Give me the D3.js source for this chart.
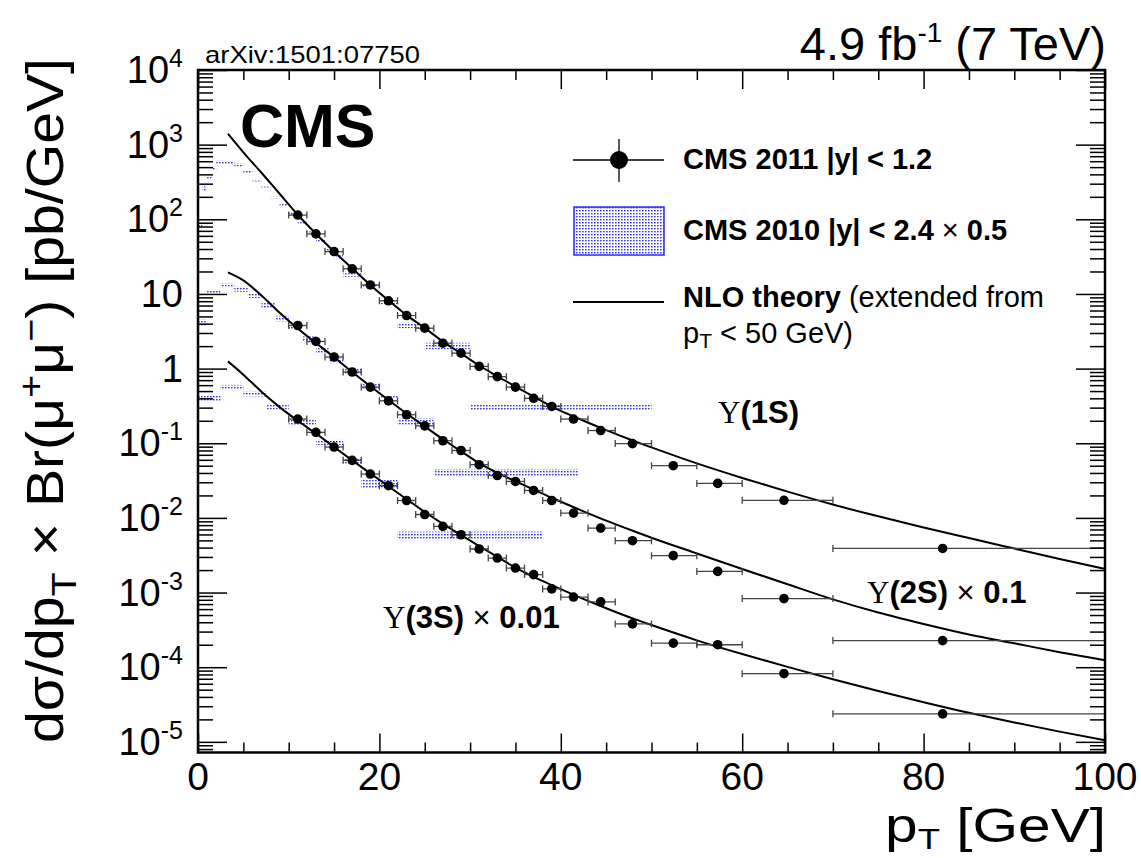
<!DOCTYPE html>
<html><head><meta charset="utf-8">
<script src="https://cdn.jsdelivr.net/npm/d3@7"></script>
<style>
body{margin:0;background:#fff}
svg{display:block}
text{font-family:"Liberation Sans",Arial,Helvetica,sans-serif;fill:#000}
</style>
</head><body>
<svg id="c" width="1141" height="858"></svg>
<script>
// ---------------- DATA ----------------
// CMS 2011 |y|<1.2 bins
const binLo  = [10,12,14,16,18,20,22,24,26,28,30,32,34,36,38,40,43,46,50,55,60,70];
const binHi  = [12,14,16,18,20,22,24,26,28,30,32,34,36,38,40,43,46,50,55,60,70,100];
const ptMean = [11,13,15,17,19,21,23,25,27,29,31,33,35,37,39,41.4,44.4,47.9,52.4,57.3,64.6,82.1];
const y1S = [114,63.8,37,21.7,13.2,8.1,5.14,3.48,2.19,1.61,1.07,0.78,0.565,0.40,0.311,0.211,0.148,0.099,0.050,0.029,0.0172,0.0039];
const y2S = [3.78,2.31,1.43,0.90,0.565,0.37,0.241,0.171,0.108,0.080,0.0516,0.037,0.0308,0.0233,0.0171,0.0116,0.0073,0.00495,0.00312,0.00192,0.00083,0.000227];
const y3S = [0.211,0.14,0.089,0.059,0.0387,0.027,0.0171,0.0111,0.0077,0.00595,0.00383,0.0029,0.00213,0.00174,0.00112,0.00087,0.00075,0.00038,0.00021,0.00020,0.000082,0.0000237];
const relErr = [0.03,0.03,0.03,0.03,0.03,0.03,0.03,0.03,0.03,0.03,0.03,0.03,0.03,0.03,0.03,0.04,0.04,0.05,0.05,0.06,0.07,0.12];

// CMS 2010 |y|<2.4 x 0.5 (boxes)
const lo1S10  = [0,0.5,1,1.5,2,3,4,5,6,7,8,9,10,11,12,13,14,15,16,18,20,22,25,30];
const hi1S10  = [0.5,1,1.5,2,3,4,5,6,7,8,9,10,11,12,13,14,15,16,18,20,22,25,30,50];
const val1S10 = [83,255,355,483,583,570,535,431,320,267,196,157,118,89,66,52,40,31.6,18,12.6,7.6,3.8,2.02,0.305];
const err1S10 = [6.5,20,18,25,27,27,28,26,10,7,5,6,5,4.5,3,2,2,1.5,1,0.6,0.3,0.33,0.2,0.032];
const lo2S10  = [0,1,2.5,4,5.5,7,8.5,10,11.5,13,14.5,16,18,20,22,26];
const hi2S10  = [1,2.5,4,5.5,7,8.5,10,11.5,13,14.5,16,18,20,22,26,42];
const val2S10 = [4.1,10.5,13.2,11.6,9.5,7.0,4.7,3.6,2.5,1.74,1.28,0.92,0.57,0.42,0.197,0.0403];
const err2S10 = [0.47,0.8,0.7,0.9,0.7,0.55,0.4,0.25,0.2,0.14,0.1,0.09,0.05,0.022,0.02,0.005];
const lo3S10  = [0,2.5,5,7.5,10,13,16,18,22];
const hi3S10  = [2.5,5,7.5,10,13,16,18,22,38];
const val3S10 = [0.40,0.56,0.46,0.31,0.19,0.103,0.0575,0.0288,0.0058];
const err3S10 = [0.04,0.045,0.035,0.027,0.015,0.008,0.006,0.0036,0.00075];

// NLO theory curves
const thPt  = [3.3,5,7,9,11,13,15,17,19,21,23,25,27,29,31,33,35,37,39,42,45,48,50,55,60,65,70,75,80,85,90,95,100];
const th1S  = [1400,790,420,220,115,64,37,22,13.2,8.2,5.2,3.5,2.3,1.6,1.1,0.79,0.575,0.42,0.31,0.213,0.150,0.108,0.088,0.0537,0.0343,0.0225,0.0151,0.0105,0.00745,0.00537,0.00389,0.00282,0.00207];
const th2S  = [19.5,15.2,9.5,5.6,3.45,2.2,1.42,0.90,0.58,0.38,0.25,0.168,0.113,0.078,0.054,0.040,0.031,0.024,0.0186,0.013,0.0092,0.00668,0.00543,0.00334,0.00207,0.00129,0.00081,0.00054,0.00038,0.000275,0.000209,0.000159,0.000124];
const th3S  = [1.25,0.83,0.49,0.305,0.20,0.135,0.089,0.059,0.0395,0.0265,0.0178,0.012,0.0083,0.0059,0.0042,0.0030,0.00216,0.00162,0.00126,0.00087,0.000617,0.000447,0.000367,0.000229,0.00015,0.000101,0.000069,0.000048,0.000034,0.0000245,0.0000182,0.0000137,0.0000105];

const xMajor = [0,20,40,60,80,100];
const yMajor = [1e4,1e3,1e2,10,1,0.1,0.01,1e-3,1e-4,1e-5];
const yLabelBase = ["10","10","10","10","1","10","10","10","10","10"];
const yLabelExp  = ["4","3","2","","","-1","-2","-3","-4","-5"];

// ---------------- DRAW ----------------
const svg = d3.select("#c");
const L = 198, R = 1105, T = 70, B = 752.5;
const x = d3.scaleLinear().domain([0,100]).range([L,R]);
const y = d3.scaleLog().domain([7.2e-6,1e4]).range([B,T]);

const defs = svg.append("defs");
const pat = defs.append("pattern").attr("id","dots").attr("patternUnits","userSpaceOnUse")
  .attr("width",3).attr("height",3);
pat.append("rect").attr("x",0).attr("y",0).attr("width",1.6).attr("height",1.4).attr("fill","#3434e0");
defs.append("clipPath").attr("id","clip").append("rect").attr("x",L).attr("y",T).attr("width",R-L).attr("height",B-T);

const plot = svg.append("g").attr("clip-path","url(#clip)");

// 2010 boxes
function boxes(lo,hi,val,err){
  plot.append("g").selectAll("rect").data(val).join("rect")
    .attr("x",(d,i)=>x(lo[i])).attr("width",(d,i)=>x(hi[i])-x(lo[i]))
    .attr("y",(d,i)=>y(d+err[i])).attr("height",(d,i)=>y(d-err[i])-y(d+err[i]))
    .attr("fill","url(#dots)");
}
boxes(lo1S10,hi1S10,val1S10,err1S10);
boxes(lo2S10,hi2S10,val2S10,err2S10);
boxes(lo3S10,hi3S10,val3S10,err3S10);

// theory
const line = d3.line().x(d=>x(d[0])).y(d=>y(d[1])).curve(d3.curveMonotoneX);
[th1S,th2S,th3S].forEach(th=>{
  plot.append("path").datum(thPt.map((p,i)=>[p,th[i]])).attr("d",line)
    .attr("fill","none").attr("stroke","#000").attr("stroke-width",2);
});

// data points
function points(vals){
  const g = plot.append("g");
  const gi = g.selectAll("g").data(vals).join("g");
  gi.append("line").attr("x1",(d,i)=>x(binLo[i])).attr("x2",(d,i)=>x(binHi[i]))
    .attr("y1",d=>y(d)).attr("y2",d=>y(d)).attr("stroke","#444").attr("stroke-width",1.3);
  gi.append("line").attr("x1",(d,i)=>x(binLo[i])).attr("x2",(d,i)=>x(binLo[i]))
    .attr("y1",d=>y(d)-3.5).attr("y2",d=>y(d)+3.5).attr("stroke","#444").attr("stroke-width",1.3);
  gi.append("line").attr("x1",(d,i)=>x(binHi[i])).attr("x2",(d,i)=>x(binHi[i]))
    .attr("y1",d=>y(d)-3.5).attr("y2",d=>y(d)+3.5).attr("stroke","#444").attr("stroke-width",1.3);
  gi.append("line").attr("x1",(d,i)=>x(ptMean[i])).attr("x2",(d,i)=>x(ptMean[i]))
    .attr("y1",(d,i)=>y(d*(1+relErr[i]))).attr("y2",(d,i)=>y(d*(1-relErr[i])))
    .attr("stroke","#000").attr("stroke-width",1.5);
  gi.append("circle").attr("cx",(d,i)=>x(ptMean[i])).attr("cy",d=>y(d)).attr("r",4.8).attr("fill","#000");
}
points(y1S); points(y2S); points(y3S);

// axes ticks
const xMinor = d3.range(0,101,5).filter(v=>v%20!==0);
const yMinor = [];
for(let e=-6;e<4;e++){ for(let m=2;m<10;m++){ const v=m*Math.pow(10,e); if(v>=7.2e-6 && v<=1e4) yMinor.push(v);} }
const axG = svg.append("g");
function styleAx(g){ g.select(".domain").remove(); g.selectAll("line").attr("stroke","#000").attr("stroke-width",1.5); g.selectAll("text").remove(); }
axG.append("g").attr("transform",`translate(0,${B})`).call(d3.axisBottom(x).tickValues(xMajor).tickSize(-19)).call(styleAx);
axG.append("g").attr("transform",`translate(0,${B})`).call(d3.axisBottom(x).tickValues(xMinor).tickSize(-10)).call(styleAx);
axG.append("g").attr("transform",`translate(0,${T})`).call(d3.axisTop(x).tickValues(xMajor).tickSize(-19)).call(styleAx);
axG.append("g").attr("transform",`translate(0,${T})`).call(d3.axisTop(x).tickValues(xMinor).tickSize(-10)).call(styleAx);
axG.append("g").attr("transform",`translate(${L},0)`).call(d3.axisLeft(y).tickValues(yMajor).tickSize(-29)).call(styleAx);
axG.append("g").attr("transform",`translate(${L},0)`).call(d3.axisLeft(y).tickValues(yMinor).tickSize(-15)).call(styleAx);
axG.append("g").attr("transform",`translate(${R},0)`).call(d3.axisRight(y).tickValues(yMajor).tickSize(-29)).call(styleAx);
axG.append("g").attr("transform",`translate(${R},0)`).call(d3.axisRight(y).tickValues(yMinor).tickSize(-15)).call(styleAx);

// frame
svg.append("rect").attr("x",L).attr("y",T).attr("width",R-L).attr("height",B-T)
  .attr("fill","none").attr("stroke","#000").attr("stroke-width",2.5);

// tick labels
svg.append("g").selectAll("text").data(xMajor).join("text")
  .attr("x",d=>x(d)).attr("y",790).attr("text-anchor","middle").attr("font-size",39).text(d=>d);
const yl = svg.append("g").selectAll("text").data(yMajor).join("text")
  .attr("x",183).attr("y",d=>y(d)+13).attr("text-anchor","end").attr("font-size",38);
yl.append("tspan").text((d,i)=>yLabelBase[i]);
yl.append("tspan").attr("dy",-16).attr("font-size",25).text((d,i)=>yLabelExp[i]);

// axis titles
const xt = svg.append("text").attr("transform","translate(1106,842) scale(1.22,1)").attr("text-anchor","end").attr("font-size",48);
xt.append("tspan").text("p");
xt.append("tspan").attr("dy",7).attr("font-size",30).text("T");
xt.append("tspan").attr("dy",-7).text(" [GeV]");

const yt = svg.append("text").attr("transform","translate(63,58) rotate(-90) scale(1.1,1)").attr("text-anchor","end").attr("font-size",52);
yt.append("tspan").text("dσ/dp");
yt.append("tspan").attr("dy",13).attr("font-size",36).text("T");
yt.append("tspan").attr("dy",-13).text(" × Br(μ");
yt.append("tspan").attr("dy",-20).attr("font-size",36).text("+");
yt.append("tspan").attr("dy",20).text("μ");
yt.append("tspan").attr("dy",-20).attr("font-size",36).text("−");
yt.append("tspan").attr("dy",20).text(") [pb/GeV]");

// top texts
const lumi = svg.append("text").attr("x",1106).attr("y",60).attr("text-anchor","end").attr("font-size",47);
lumi.append("tspan").text("4.9 fb");
lumi.append("tspan").attr("dy",-18).attr("font-size",28).text("-1");
lumi.append("tspan").attr("dy",18).text(" (7 TeV)");
svg.append("text").attr("x",205).attr("y",63).attr("font-size",24)
  .attr("textLength",215).attr("lengthAdjust","spacingAndGlyphs").text("arXiv:1501:07750");
svg.append("text").attr("x",240).attr("y",147).attr("font-size",61).attr("font-weight","bold").text("CMS");

// legend
const lg = svg.append("g");
lg.append("line").attr("x1",573).attr("x2",664).attr("y1",160).attr("y2",160).attr("stroke","#000").attr("stroke-width",1.3);
lg.append("line").attr("x1",619).attr("x2",619).attr("y1",139).attr("y2",182).attr("stroke","#000").attr("stroke-width",1.3);
lg.append("circle").attr("cx",619).attr("cy",160).attr("r",9).attr("fill","#000");
lg.append("text").attr("x",683).attr("y",169).attr("font-size",29).attr("font-weight","bold").text("CMS 2011 |y| < 1.2");
lg.append("rect").attr("x",574).attr("y",207).attr("width",90).attr("height",48).attr("fill","url(#dots)").attr("stroke","#2a2aff").attr("stroke-width",1.5);
const l2 = lg.append("text").attr("x",683).attr("y",240).attr("font-size",29).attr("font-weight","bold");
l2.append("tspan").text("CMS 2010 |y| < 2.4 ");
l2.append("tspan").attr("font-weight","normal").text(" × ");
l2.append("tspan").text("0.5");
lg.append("line").attr("x1",573).attr("x2",664).attr("y1",302).attr("y2",302).attr("stroke","#000").attr("stroke-width",2);
const l3 = lg.append("text").attr("x",683).attr("y",307).attr("font-size",29);
l3.append("tspan").attr("font-weight","bold").text("NLO theory");
l3.append("tspan").text(" (extended from");
const l4 = lg.append("text").attr("x",683).attr("y",343).attr("font-size",29);
l4.append("tspan").text("p");
l4.append("tspan").attr("dy",5).attr("font-size",21).text("T");
l4.append("tspan").attr("dy",-5).text(" < 50 GeV)");

// state labels
function stateLabel(px,py,st,scale){
  const t = svg.append("text").attr("x",px).attr("y",py).attr("font-size",31);
  t.append("tspan").attr("font-family","'Liberation Serif','Times New Roman',serif").text("Υ");
  t.append("tspan").attr("font-weight","bold").text("("+st+")");
  if(scale){
    t.append("tspan").text("  × ");
    t.append("tspan").attr("font-weight","bold").text(scale);
  }
}
stateLabel(718,423,"1S",null);
stateLabel(867,603,"2S","0.1");
stateLabel(383,628,"3S","0.01");
</script>
</body></html>
